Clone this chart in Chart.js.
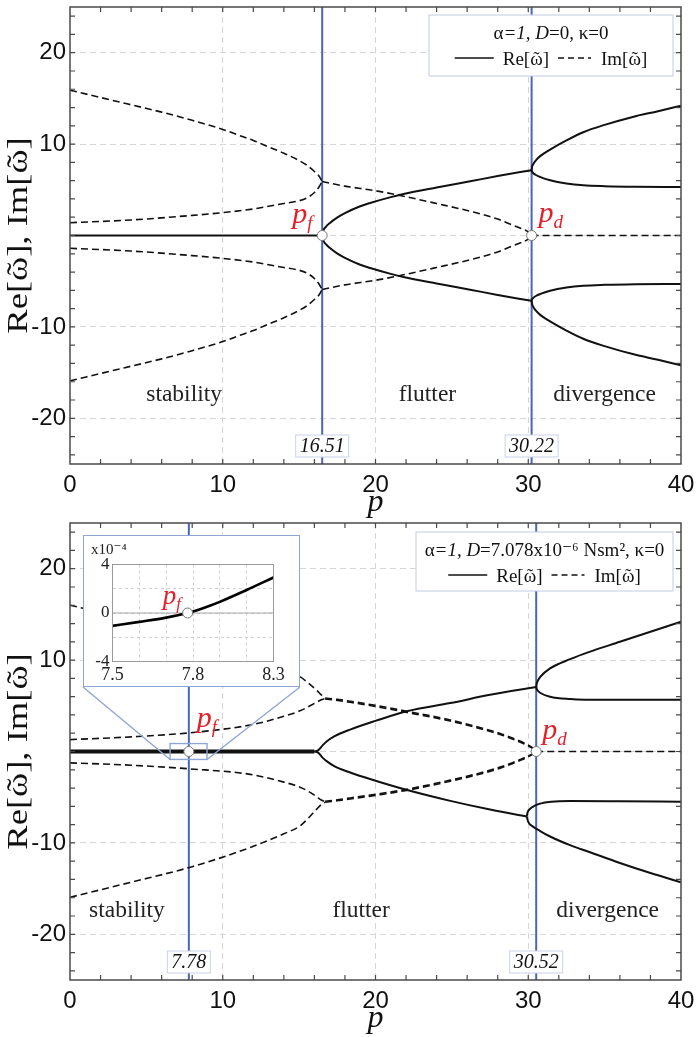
<!DOCTYPE html>
<html>
<head>
<meta charset="utf-8">
<title>Re / Im of omega versus p</title>
<script src="https://cdn.jsdelivr.net/npm/chart.js@4.4.1/dist/chart.umd.min.js"></script>
<style>
  html, body { margin: 0; padding: 0; background: #fff; }
  #page { position: relative; width: 698px; height: 1037px; overflow: hidden; }
  #topWrap { position: absolute; left: 0; top: 0; }
  #botWrap { position: absolute; left: 0; top: 515px; }
  #insetWrap { position: absolute; left: 83px; top: 535px; width: 217px; height: 152px;
               box-sizing: border-box; border: 1.5px solid #8ea6d6; background: #fff; }
  #insetWrap canvas { display: block; }
</style>
</head>
<body>
<div id="page">
  <div id="topWrap"><canvas id="topChart" width="698" height="522"></canvas></div>
  <div id="botWrap"><canvas id="botChart" width="698" height="522"></canvas></div>
  <div id="insetWrap"><canvas id="insetChart" width="214" height="149"></canvas></div>
</div>
<script>
// axes
const xTicks = [0, 10, 20, 30, 40];
const yTicks = [-20, -10, 0, 10, 20];
const yTickLabels = ['-20', '-10', '', '10', '20'];

// ---- upper panel: D = 0 ----
const pF0 = 16.51, pD0 = 30.22;
const reStab0X = [0, 16.51];
const reStab0Y = [0, 0];
const imOut0X = [0, 2, 4, 6, 8, 10, 11, 12, 13, 14, 15, 15.5, 16, 16.3, 16.51];
const imOutUp0Y = [15.9, 15.1, 14.3, 13.5, 12.6, 11.6, 11.0, 10.4, 9.7, 9.0, 8.2, 7.7, 7.0, 6.5, 5.9];
const imOutLo0Y = [-15.9, -15.1, -14.3, -13.5, -12.6, -11.6, -11.0, -10.4, -9.7, -9.0, -8.2, -7.7, -7.0, -6.5, -5.9];
const imIn0X = [0, 4, 8, 10, 12, 13, 14, 15, 15.5, 16, 16.3, 16.51];
const imInUp0Y = [1.4, 1.7, 2.2, 2.5, 2.9, 3.2, 3.5, 3.8, 4.1, 4.7, 5.3, 5.9];
const imInLo0Y = [-1.4, -1.7, -2.2, -2.5, -2.9, -3.2, -3.5, -3.8, -4.1, -4.7, -5.3, -5.9];
const imFl0X = [16.51, 18, 20, 21.83, 24, 26.2, 28, 28.8, 29.5, 30, 30.22];
const imFlUp0Y = [5.9, 5.4, 4.9, 4.3, 3.5, 2.65, 1.8, 1.25, 0.8, 0.4, 0];
const imFlLo0Y = [-5.9, -5.4, -4.9, -4.3, -3.5, -2.65, -1.8, -1.25, -0.8, -0.4, 0];
const reFl0X = [16.51, 16.6, 16.75, 17, 17.46, 18, 19, 19.65, 21, 21.83, 24, 26.2, 28, 30.22];
const reFlUp0Y = [0, 0.6, 0.95, 1.35, 1.93, 2.45, 3.2, 3.56, 4.2, 4.54, 5.25, 5.93, 6.5, 7.15];
const reFlLo0Y = [0, -0.6, -0.95, -1.35, -1.93, -2.45, -3.2, -3.56, -4.2, -4.54, -5.25, -5.93, -6.5, -7.15];
const reDivA0X = [30.22, 30.25, 30.3, 30.5, 30.8, 31.43, 32.5, 33.6, 35, 36.9, 38.5, 40];
const reDivAUp0Y = [7.15, 7.5, 7.73, 8.23, 8.71, 9.4, 10.4, 11.3, 12.1, 13.0, 13.6, 14.2];
const reDivALo0Y = [-7.15, -7.5, -7.73, -8.23, -8.71, -9.4, -10.4, -11.3, -12.1, -13.0, -13.6, -14.2];
const reDivB0X = [30.22, 30.25, 30.3, 30.5, 30.8, 31.43, 32.5, 33.6, 35, 37, 40];
const reDivBUp0Y = [7.15, 6.98, 6.87, 6.62, 6.39, 6.05, 5.7, 5.5, 5.4, 5.33, 5.3];
const reDivBLo0Y = [-7.15, -6.98, -6.87, -6.62, -6.39, -6.05, -5.7, -5.5, -5.4, -5.33, -5.3];
const imDiv0X = [30.22, 40];
const imDiv0Y = [0, 0];

// ---- lower panel: D = 7.078e-6 ----
const pF1 = 7.78, pD1 = 30.52;
const reStab1X = [0, 16.0];
const reStab1Y = [0, 0];
const imOut1X = [0, 4, 8, 11.8, 14, 15.06, 15.6, 16.15, 16.45, 16.7];
const imOutUp1Y = [16.0, 14.5, 12.9, 10.8, 9.3, 8.2, 7.5, 6.7, 6.2, 5.85];
const imOutLo1Y = [-15.95, -14.3, -12.6, -10.5, -9.0, -8.15, -7.3, -6.3, -5.8, -5.55];
const imIn1X = [0, 4, 7.86, 11.8, 14, 15.06, 15.6, 16.15, 16.45, 16.7];
const imInUp1Y = [1.3, 1.6, 2.05, 2.9, 3.85, 4.45, 4.9, 5.4, 5.65, 5.8];
const imInLo1Y = [-1.24, -1.5, -1.9, -2.5, -3.35, -3.9, -4.35, -4.95, -5.3, -5.5];
const imFl1X = [16.7, 17.5, 18.34, 20, 22.05, 24.9, 27, 28.16, 29, 29.7, 30.2, 30.52];
const imFlUpA1Y = [5.85, 5.7, 5.5, 5.05, 4.4, 3.45, 2.55, 1.98, 1.45, 0.95, 0.5, 0];
const imFlUpB1Y = [5.75, 5.58, 5.38, 4.92, 4.28, 3.33, 2.43, 1.86, 1.35, 0.85, 0.42, 0];
const imFlLoA1Y = [-5.55, -5.38, -5.2, -4.8, -4.25, -3.25, -2.4, -1.82, -1.3, -0.82, -0.4, 0];
const imFlLoB1Y = [-5.45, -5.28, -5.08, -4.68, -4.13, -3.13, -2.28, -1.7, -1.2, -0.72, -0.33, 0];
const reFlUp1X = [16.0, 16.15, 16.26, 16.4, 16.55, 16.8, 17.3, 18.34, 20, 22.05, 24.9, 27.5, 30.52];
const reFlUp1Y = [0, 0.05, 0.15, 0.4, 0.7, 1.1, 1.65, 2.4, 3.35, 4.4, 5.3, 6.2, 7.05];
const reFlLo1X = [16.0, 16.15, 16.26, 16.4, 16.55, 16.8, 17.3, 18.34, 20, 21.83, 24.9, 27.5, 29.9];
const reFlLo1Y = [0, -0.05, -0.15, -0.4, -0.7, -1.05, -1.6, -2.3, -3.2, -4.1, -5.4, -6.35, -7.1];
const reDivUpA1X = [30.52, 30.55, 30.6, 30.8, 31.43, 32.74, 34, 36, 38, 40];
const reDivUpA1Y = [7.05, 7.4, 7.65, 8.2, 9.1, 10.1, 10.9, 12.0, 13.1, 14.2];
const reDivUpB1X = [30.52, 30.55, 30.6, 30.8, 31.43, 32.74, 35, 40];
const reDivUpB1Y = [7.05, 6.85, 6.7, 6.4, 6.0, 5.75, 5.65, 5.65];
const reDivLoA1X = [29.9, 29.95, 30.1, 30.4, 30.78, 31.5, 32.74, 36, 40];
const reDivLoA1Y = [-7.1, -6.7, -6.3, -5.95, -5.7, -5.5, -5.42, -5.45, -5.5];
const reDivLoB1X = [29.9, 30.0, 30.3, 30.78, 31.43, 32.74, 34, 36, 38, 40];
const reDivLoB1Y = [-7.1, -7.7, -8.2, -8.7, -9.3, -10.25, -11.0, -12.2, -13.3, -14.3];
const imDiv1X = [30.52, 40];
const imDiv1Y = [0, 0];

// ---- inset (x1e-4) ----
const insetX = [7.5, 7.6, 7.7, 7.78, 7.8, 7.85, 7.9, 8.0, 8.1];
const insetY = [-1.06, -0.73, -0.38, 0, 0.12, 0.5, 0.92, 1.9, 2.93];
const insetXTicks = [7.5, 7.6, 7.7, 7.8, 7.9, 8.0, 8.1];
const insetXLabels = ['7.5', '', '', '7.8', '', '', '8.3'];
const insetYTicks = [-4, -2, 0, 2, 4];
const insetYLabels = ['-4', '', '0', '', '4'];

const SERIF = "'Liberation Serif', 'DejaVu Serif', serif";
const SANS = "'Liberation Sans', Arial, sans-serif";
const RED = '#e3202a';
const BLUE = '#4a66b6';
const GRID = '#d6d6d6';
const RE_T = 'Re[ω]';
const IM_T = 'Im[ω]';

function curve(xs, ys, style) {
  const dashed = style === 'dash';
  return {
    data: xs.map((x, i) => ({ x: x, y: ys[i] })),
    borderColor: '#111',
    borderWidth: style === 'thick' ? 4 : (dashed ? 1.6 : 2),
    borderDash: dashed ? [7, 4] : [],
    pointRadius: 0,
    cubicInterpolationMode: 'monotone',
    order: 1
  };
}

function vline(p) {
  return {
    data: [{ x: p, y: -25 }, { x: p, y: 25 }],
    borderColor: BLUE, borderWidth: 2, pointRadius: 0, order: 5
  };
}

function noPad(s) {
  s.paddingTop = 0; s.paddingBottom = 0; s.paddingLeft = 0; s.paddingRight = 0;
}

function mainOptions(padTop, xAxisH) {
  return {
    responsive: false, animation: false, events: [],
    layout: { padding: { top: padTop, right: 17, left: 0, bottom: 0 } },
    plugins: { legend: { display: false }, tooltip: { enabled: false } },
    scales: {
      x: {
        type: 'linear', min: 0, max: 40,
        afterBuildTicks: s => { s.ticks = xTicks.map(v => ({ value: v })); },
        afterFit: s => { s.height = xAxisH; noPad(s); },
        grid: { drawTicks: false, color: c => (c.tick && c.tick.value > 0 && c.tick.value < 40) ? GRID : 'rgba(0,0,0,0)' },
        border: { display: false, dash: [6, 4] },
        ticks: { padding: 7, color: '#111', font: { family: SANS, size: 24 }, maxRotation: 0, autoSkip: false,
                 callback: v => String(v) }
      },
      y: {
        type: 'linear', min: -25, max: 25,
        afterBuildTicks: s => { s.ticks = yTicks.map(v => ({ value: v })); },
        afterFit: s => { s.width = 70; noPad(s); },
        grid: { drawTicks: false, color: GRID },
        border: { display: false, dash: [6, 4] },
        ticks: { padding: 4, color: '#111', font: { family: SANS, size: 24 }, autoSkip: false,
                 callback: (v, i) => yTickLabels[i] }
      }
    }
  };
}

// writes a string and puts a tilde over every omega; returns its width
function tildeText(ctx, str, x, y, align) {
  const w = ctx.measureText(str).width;
  const x0 = align === 'center' ? x - w / 2 : x;
  ctx.textAlign = 'left';
  ctx.fillText(str, x0, y);
  const wo = ctx.measureText('ω').width;
  for (let i = 0; i < str.length; i++) {
    if (str[i] === 'ω') {
      const pre = ctx.measureText(str.slice(0, i)).width;
      ctx.textAlign = 'center';
      ctx.fillText('˜', x0 + pre + wo / 2, y);
      ctx.textAlign = 'left';
    }
  }
  return w;
}

function subLabel(ctx, x, y, main, sub, size) {
  ctx.fillStyle = RED;
  ctx.textAlign = 'left';
  ctx.textBaseline = 'alphabetic';
  ctx.font = 'italic ' + size + 'px ' + SERIF;
  ctx.fillText(main, x, y);
  const w = ctx.measureText(main).width;
  ctx.font = 'italic ' + Math.round(size * 0.62) + 'px ' + SERIF;
  ctx.fillText(sub, x + w, y + size * 0.2);
}

function marker(ctx, x, y, r) {
  ctx.beginPath();
  ctx.arc(x, y, r, 0, Math.PI * 2);
  ctx.fillStyle = '#fff';
  ctx.fill();
  ctx.lineWidth = 1;
  ctx.strokeStyle = '#777';
  ctx.stroke();
}

function drawSegments(ctx, segs, cx, y) {
  let total = 0;
  segs.forEach(s => { ctx.font = (s.i ? 'italic ' : '') + '19px ' + SERIF; s.w = ctx.measureText(s.t).width; total += s.w; });
  let x = cx - total / 2;
  ctx.textAlign = 'left';
  segs.forEach(s => { ctx.font = (s.i ? 'italic ' : '') + '19px ' + SERIF; ctx.fillText(s.t, x, y); x += s.w; });
}

function makeDecor(cfg) {
  return {
    id: 'decor',
    afterDatasetsDraw(chart) {
      const { ctx, chartArea: a, scales: { x, y } } = chart;
      ctx.save();

      // frame
      ctx.strokeStyle = '#4a4a4a';
      ctx.lineWidth = 1.5;
      ctx.strokeRect(a.left, a.top, a.right - a.left, a.bottom - a.top);

      // inward ticks on all four sides
      ctx.lineWidth = 1.2;
      ctx.beginPath();
      for (let v = 2; v < 40; v += 2) {
        const px = x.getPixelForValue(v);
        ctx.moveTo(px, a.bottom); ctx.lineTo(px, a.bottom - 5);
        ctx.moveTo(px, a.top); ctx.lineTo(px, a.top + 5);
      }
      for (let v = -24; v <= 24; v += 2) {
        const py = y.getPixelForValue(v);
        ctx.moveTo(a.left, py); ctx.lineTo(a.left + 5, py);
        ctx.moveTo(a.right, py); ctx.lineTo(a.right - 5, py);
      }
      ctx.stroke();

      // zoom window and connectors to the inset
      if (cfg.zoom) {
        const z = cfg.zoom;
        const x0 = x.getPixelForValue(z.x0), x1 = x.getPixelForValue(z.x1);
        const y0 = y.getPixelForValue(z.y0), y1 = y.getPixelForValue(z.y1);
        ctx.strokeStyle = '#8ea6d6';
        ctx.lineWidth = 1.4;
        ctx.strokeRect(x0, y0, x1 - x0, y1 - y0);
        ctx.beginPath();
        ctx.moveTo(z.boxL, z.boxB); ctx.lineTo(x0, y1);
        ctx.moveTo(z.boxR, z.boxB); ctx.lineTo(x1, y1);
        ctx.stroke();
      }

      // region names
      ctx.fillStyle = '#222';
      ctx.font = '23.5px ' + SERIF;
      ctx.textAlign = 'center';
      ctx.textBaseline = 'alphabetic';
      cfg.regions.forEach(r => ctx.fillText(r.t, x.getPixelForValue(r.p), y.getPixelForValue(r.v)));

      // value boxes at the critical loads
      ctx.font = 'italic 20px ' + SERIF;
      [cfg.pf, cfg.pd].forEach(p => {
        const t = p.toFixed(2);
        const w = ctx.measureText(t).width + 8;
        const cx = x.getPixelForValue(p);
        const top = a.bottom - 29;
        ctx.fillStyle = '#fff';
        ctx.fillRect(cx - w / 2, top, w, 22);
        ctx.strokeStyle = '#c9d1e9';
        ctx.lineWidth = 1;
        ctx.strokeRect(cx - w / 2, top, w, 22);
        ctx.fillStyle = '#111';
        ctx.textAlign = 'center';
        ctx.fillText(t, cx, top + 17);
      });

      // critical points
      const fx = x.getPixelForValue(cfg.pf), dx = x.getPixelForValue(cfg.pd), zy = y.getPixelForValue(0);
      marker(ctx, fx, zy, 5);
      marker(ctx, dx, zy, 5);
      subLabel(ctx, fx + cfg.pfOff[0], zy + cfg.pfOff[1], 'p', 'f', 30);
      subLabel(ctx, dx + cfg.pdOff[0], zy + cfg.pdOff[1], 'p', 'd', 30);

      // legend
      const L = cfg.legend;
      const bx = a.right - 8 - L.w, by = a.top + L.dy;
      ctx.fillStyle = '#fff';
      ctx.fillRect(bx, by, L.w, L.h);
      ctx.strokeStyle = '#c3cbe6';
      ctx.lineWidth = 1;
      ctx.strokeRect(bx, by, L.w, L.h);
      ctx.fillStyle = '#111';
      drawSegments(ctx, L.segs, bx + L.w / 2, by + 24);
      ctx.font = '19px ' + SERIF;
      const wRe = ctx.measureText(RE_T).width, wIm = ctx.measureText(IM_T).width;
      const total = 39 + 9 + wRe + 9 + 33 + 10 + wIm;
      let lx = bx + L.w / 2 - total / 2;
      const ly = by + 50;
      ctx.strokeStyle = '#111';
      ctx.lineWidth = 1.6;
      ctx.beginPath(); ctx.moveTo(lx, ly - 7); ctx.lineTo(lx + 39, ly - 7); ctx.stroke();
      lx += 48;
      tildeText(ctx, RE_T, lx, ly, 'left');
      lx += wRe + 9;
      ctx.setLineDash([6, 4]);
      ctx.beginPath(); ctx.moveTo(lx, ly - 7); ctx.lineTo(lx + 33, ly - 7); ctx.stroke();
      ctx.setLineDash([]);
      lx += 43;
      tildeText(ctx, IM_T, lx, ly, 'left');

      // axis titles
      ctx.fillStyle = '#111';
      ctx.font = 'italic 32px ' + SERIF;
      ctx.textAlign = 'center';
      ctx.fillText('p', (a.left + a.right) / 2, a.bottom + 47);
      ctx.save();
      ctx.translate(19, (a.top + a.bottom) / 2);
      ctx.rotate(-Math.PI / 2);
      ctx.scale(1.22, 1);
      ctx.font = '30px ' + SERIF;
      ctx.textBaseline = 'middle';
      tildeText(ctx, RE_T + ', ' + IM_T, 0, 0, 'center');
      ctx.restore();

      ctx.restore();
    }
  };
}

// ---------- upper chart ----------
new Chart(document.getElementById('topChart'), {
  type: 'line',
  data: {
    datasets: [
      curve(reStab0X, reStab0Y, 'solid'),
      curve(imOut0X, imOutUp0Y, 'dash'),
      curve(imOut0X, imOutLo0Y, 'dash'),
      curve(imIn0X, imInUp0Y, 'dash'),
      curve(imIn0X, imInLo0Y, 'dash'),
      curve(imFl0X, imFlUp0Y, 'dash'),
      curve(imFl0X, imFlLo0Y, 'dash'),
      curve(reFl0X, reFlUp0Y, 'solid'),
      curve(reFl0X, reFlLo0Y, 'solid'),
      curve(reDivA0X, reDivAUp0Y, 'solid'),
      curve(reDivA0X, reDivALo0Y, 'solid'),
      curve(reDivB0X, reDivBUp0Y, 'solid'),
      curve(reDivB0X, reDivBLo0Y, 'solid'),
      curve(imDiv0X, imDiv0Y, 'dash'),
      vline(pF0),
      vline(pD0)
    ]
  },
  options: mainOptions(7, 58),
  plugins: [makeDecor({
    pf: pF0, pd: pD0,
    pfOff: [-30, -13], pdOff: [7, -14],
    regions: [
      { t: 'stability', p: 7.47, v: -18.1 },
      { t: 'flutter', p: 23.4, v: -18.1 },
      { t: 'divergence', p: 35.0, v: -18.1 }
    ],
    legend: { w: 244, h: 61, dy: 8,
      segs: [{ t: 'α', i: false }, { t: '=1, D', i: true }, { t: '=0, κ=0', i: false }] }
  })]
});

// ---------- lower chart ----------
const INSET = { left: 83, top: 535, width: 217, height: 152 };
const BOT_TOP = 515;

new Chart(document.getElementById('botChart'), {
  type: 'line',
  data: {
    datasets: [
      curve(reStab1X, reStab1Y, 'thick'),
      curve(imOut1X, imOutUp1Y, 'dash'),
      curve(imOut1X, imOutLo1Y, 'dash'),
      curve(imIn1X, imInUp1Y, 'dash'),
      curve(imIn1X, imInLo1Y, 'dash'),
      curve(imFl1X, imFlUpA1Y, 'dash'),
      curve(imFl1X, imFlUpB1Y, 'dash'),
      curve(imFl1X, imFlLoA1Y, 'dash'),
      curve(imFl1X, imFlLoB1Y, 'dash'),
      curve(reFlUp1X, reFlUp1Y, 'solid'),
      curve(reFlLo1X, reFlLo1Y, 'solid'),
      curve(reDivUpA1X, reDivUpA1Y, 'solid'),
      curve(reDivUpB1X, reDivUpB1Y, 'solid'),
      curve(reDivLoA1X, reDivLoA1Y, 'solid'),
      curve(reDivLoB1X, reDivLoB1Y, 'solid'),
      curve(imDiv1X, imDiv1Y, 'dash'),
      vline(pF1),
      vline(pD1)
    ]
  },
  options: mainOptions(8, 57),
  plugins: [makeDecor({
    pf: pF1, pd: pD1,
    pfOff: [8, -25], pdOff: [6, -13],
    regions: [
      { t: 'stability', p: 3.73, v: -18.1 },
      { t: 'flutter', p: 19.06, v: -18.1 },
      { t: 'divergence', p: 35.2, v: -18.1 }
    ],
    zoom: { x0: 6.55, x1: 8.97, y0: 0.87, y1: -0.87,
            boxL: INSET.left, boxR: INSET.left + INSET.width, boxB: INSET.top + INSET.height - BOT_TOP },
    legend: { w: 257, h: 59, dy: 9,
      segs: [{ t: 'α', i: false }, { t: '=1, D', i: true }, { t: '=7.078x10⁻⁶ Nsm², κ=0', i: false }] }
  })]
});

// ---------- inset ----------
const insetDecor = {
  id: 'insetDecor',
  beforeDatasetsDraw(chart) {
    const { ctx, chartArea: a, scales: { y } } = chart;
    ctx.save();
    ctx.strokeStyle = '#a8a8a8';
    ctx.lineWidth = 1.2;
    const zy = y.getPixelForValue(0);
    ctx.beginPath(); ctx.moveTo(a.left, zy); ctx.lineTo(a.right, zy); ctx.stroke();
    ctx.restore();
  },
  afterDatasetsDraw(chart) {
    const { ctx, chartArea: a, scales: { x, y } } = chart;
    ctx.save();
    ctx.strokeStyle = '#9a9a9a';
    ctx.lineWidth = 1;
    ctx.strokeRect(a.left, a.top, a.right - a.left, a.bottom - a.top);
    const mx = x.getPixelForValue(pF1), my = y.getPixelForValue(0);
    marker(ctx, mx, my, 5);
    subLabel(ctx, mx - 25, my - 9, 'p', 'f', 27);
    ctx.fillStyle = '#222';
    ctx.font = '15px ' + SERIF;
    ctx.textAlign = 'left';
    ctx.fillText('x10⁻⁴', 7, 18);
    ctx.restore();
  }
};

new Chart(document.getElementById('insetChart'), {
  type: 'line',
  data: {
    datasets: [{
      data: insetX.map((v, i) => ({ x: v, y: insetY[i] })),
      borderColor: '#000', borderWidth: 2.6, pointRadius: 0,
      cubicInterpolationMode: 'monotone'
    }]
  },
  options: {
    responsive: false, animation: false, events: [],
    layout: { padding: { top: 28.5, right: 24.5, left: 0, bottom: 0 } },
    plugins: { legend: { display: false }, tooltip: { enabled: false } },
    scales: {
      x: {
        type: 'linear', min: 7.5, max: 8.1,
        afterBuildTicks: s => { s.ticks = insetXTicks.map(v => ({ value: v })); },
        afterFit: s => { s.height = 23.5; noPad(s); },
        grid: { drawTicks: false, color: '#d2d2d2' },
        border: { display: false, dash: [3, 3] },
        ticks: { padding: 3, color: '#222', font: { family: SERIF, size: 18 }, maxRotation: 0, autoSkip: false,
                 callback: (v, i) => insetXLabels[i] }
      },
      y: {
        type: 'linear', min: -4, max: 4,
        afterBuildTicks: s => { s.ticks = insetYTicks.map(v => ({ value: v })); },
        afterFit: s => { s.width = 28.5; noPad(s); },
        grid: { drawTicks: false, color: '#d2d2d2' },
        border: { display: false, dash: [3, 3] },
        ticks: { padding: 3, color: '#222', font: { family: SERIF, size: 17 }, autoSkip: false,
                 callback: (v, i) => insetYLabels[i] }
      }
    }
  },
  plugins: [insetDecor]
});
</script>
</body>
</html>
